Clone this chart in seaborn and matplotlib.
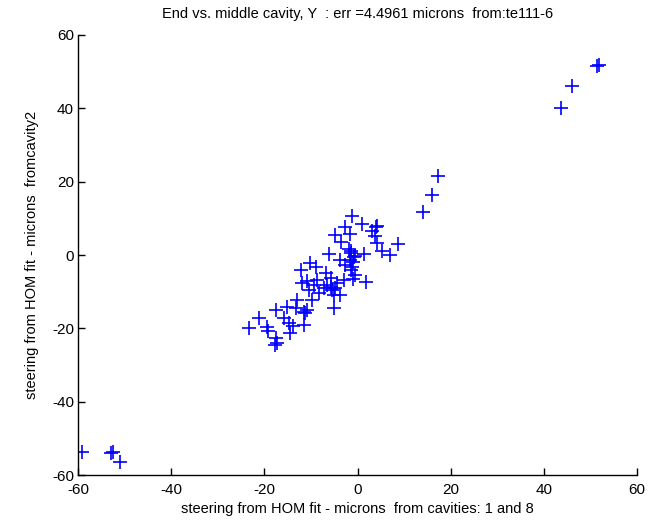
import matplotlib
matplotlib.use("Agg")
import matplotlib.pyplot as plt
import seaborn as sns
import pandas as pd

x_vals = [51.4, 51.8, 46.1, 43.6, 17.3, 15.9, 14.0,
          -59.2, -53.0, -52.6, -51.0,
          -1.1, 1.0, 4.2, 4.0, -2.7, 3.2, -4.9, -1.7, 3.7, -3.6, 4.2, 8.7,
          -1.9, 5.2, 6.9, -6.2, -1.3, 1.4, -3.8, -1.7, -2.7, -1.1, -10.2, -9.0,
          -12.2, -1.3, -6.7, -0.6, -10.8, -8.6, -5.6, -2.9, -0.9, 1.9, -11.9,
          -9.4, -6.5, -4.4, -10.5, -7.2, -5.4, -8.3, -5.1, -3.8, -9.7, -12.9,
          -5.1, -15.1, -13.3, -10.9, -17.4, -11.2, -21.2, -15.8, -14.7, -23.3,
          -19.4, -19.2, -13.8, -11.4, -14.4, -17.6, -17.2, -17.7,
          -0.8, -1.0, -5.8, -11.5, -1.5, -0.5, -4.8]
y_vals = [51.5, 51.8, 46.0, 40.1, 21.6, 16.3, 11.7,
          -53.6, -54.0, -53.6, -56.3,
          10.7, 8.4, 7.9, 7.6, 7.7, 6.6, 5.4, 5.6, 5.2, 3.5, 3.2, 3.0,
          1.6, 1.1, 0.0, 0.3, 0.5, 0.2, -1.4, -1.4, -2.7, -3.2, -2.1, -3.2,
          -4.1, -4.1, -4.8, -5.4, -7.1, -6.8, -6.3, -6.8, -6.6, -7.3, -7.7,
          -8.2, -8.2, -7.7, -9.5, -9.1, -9.5, -10.3, -10.9, -10.9, -12.3, -12.3,
          -14.5, -14.1, -14.5, -15.0, -15.0, -15.9, -17.1, -17.1, -18.4, -19.8,
          -19.5, -20.7, -19.3, -19.1, -21.3, -22.5, -23.9, -24.5,
          -0.5, -2.0, -8.8, -15.5, 1.0, -0.3, -9.0]

title = "End vs. middle cavity, Y  : err =4.4961 microns  from:te111-6"
xlabel = "steering from HOM fit - microns  from cavities: 1 and 8"
ylabel = "steering from HOM fit - microns  fromcavity2"
ticks = [-60, -40, -20, 0, 20, 40, 60]

df = pd.DataFrame({"x": x_vals, "y": y_vals})

plt.rcParams['font.family'] = ['Liberation Sans', 'DejaVu Sans']
fig = plt.figure(figsize=(6.56, 5.21), dpi=100)
ax = fig.add_axes([0.119, 0.088, 0.852, 0.845])
sns.scatterplot(data=df, x="x", y="y", marker="+", color="#0000ff",
                s=110, linewidth=1.2, ax=ax, legend=False)
ax.set_xlim(-60, 60)
ax.set_ylim(-60, 60)
ax.set_xticks(ticks)
ax.set_yticks(ticks)
ax.set_xticklabels([str(t) for t in ticks])
ax.set_yticklabels([str(t) for t in ticks])
ax.spines['top'].set_visible(False)
ax.spines['right'].set_visible(False)
for s in ['left', 'bottom']:
    ax.spines[s].set_linewidth(1.0)
    ax.spines[s].set_color('black')
ax.tick_params(direction='in', length=5, width=1.0, labelsize=11, colors='black')
ax.tick_params(axis='x', pad=6)
ax.tick_params(axis='y', pad=3)
ax.set_title(title, fontsize=10.5, pad=12)
ax.set_xlabel(xlabel, fontsize=10.5, labelpad=3)
ax.set_ylabel(ylabel, fontsize=10.5, labelpad=9)
fig.savefig("out.png", dpi=100)
